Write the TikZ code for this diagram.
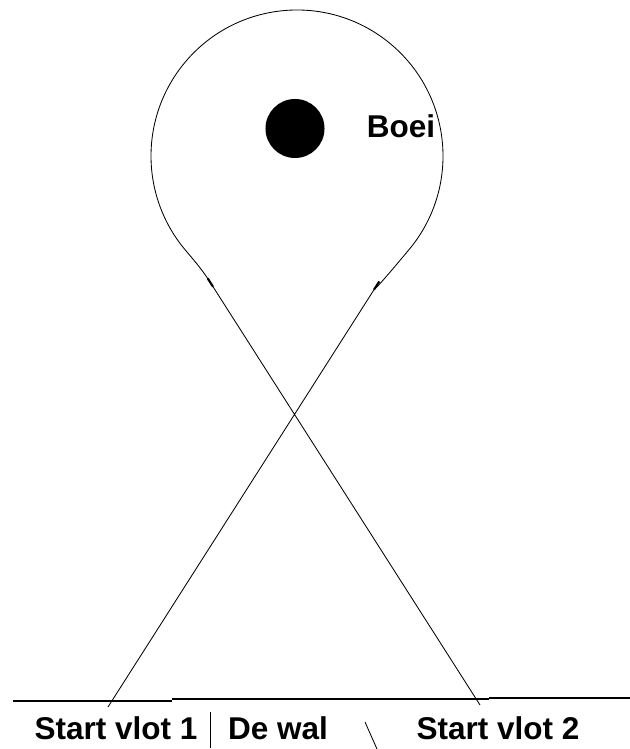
\documentclass[tikz,border=0pt]{standalone}
\usepackage{fontspec}
\setmainfont{Liberation Sans}
\usepackage{tikz}
\usetikzlibrary{calc,positioning}
\tikzset{
  lbl/.style={font=\fontsize{22.4}{26}\selectfont\bfseries, inner sep=0pt},
  course/.style={line width=0.6pt},
  shore/.style={line width=0.9pt}
}

\begin{document}
\begin{tikzpicture}[x=0.025cm, y=0.025cm]
    \useasboundingbox (0,0) rectangle (630,749);

    % buoy
    \coordinate (c) at (297,593);
    \node[circle, fill=black, minimum size=1.475cm, inner sep=0pt] (buoy) at (295,620.5) {};
    \node[lbl] (boei) at (401,623) {Boei};

    % course of both rafts round the buoy
    \coordinate (v1) at (108,42);
    \coordinate (v2) at (480,44);
    \coordinate (jl) at (210,467);
    \coordinate (jr) at (377,464);
    \coordinate (al) at ($(c)+(220:146)$);
    \coordinate (ar) at ($(c)+(-40:146)$);
    \draw[course] (v1) -- (jr) .. controls ($(jr)!11pt!(v1)$) and ($(ar)+(230:15)$) .. (ar)
        arc[start angle=-40, end angle=220, radius=146]
        .. controls ($(al)+(310:15)$) and ($(jl)!-11pt!(v2)$) .. (jl) -- (v2);

    % small marks where the lines leave the loop
    \draw[line width=1.5pt] ($(jl)!-3pt!(v2)$) -- ($(jl)!4pt!(v2)$);
    \draw[line width=1.5pt] ($(jr)!-3pt!(v1)$) -- ($(jr)!4pt!(v1)$);

    % the shore
    \coordinate (g0) at (13,48);
    \coordinate (g1) at (172,48);
    \coordinate (g2) at (172,50);
    \coordinate (g3) at (489,50);
    \coordinate (g4) at (489,51);
    \coordinate (g5) at (630,51);
    \draw[shore] (g0) -- (g1) (g2) -- (g3) (g4) -- (g5);

    \node[lbl] (vlot1) at (116,20.5) {Start vlot 1};
    \node[lbl] (wal) at (278,20.5) {De wal};
    \node[lbl] (vlot2) at (498,20.5) {Start vlot 2};

    \coordinate (s1a) at (210,37);
    \coordinate (s1b) at (210,1);
    \coordinate (s2a) at (365,27);
    \coordinate (s2b) at (377,0);
    \draw[course] (s1a) -- (s1b);
    \draw[course] (s2a) -- (s2b);
\end{tikzpicture}
\end{document}
